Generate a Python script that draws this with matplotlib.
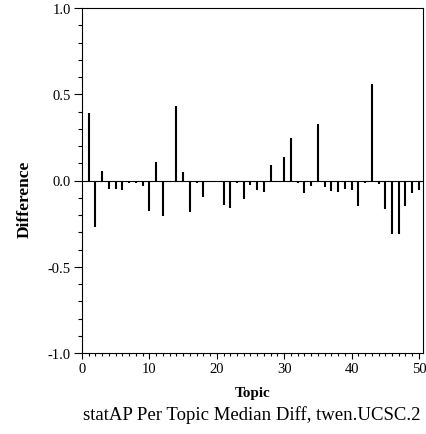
import numpy as np
import matplotlib.pyplot as plt
from matplotlib.ticker import MultipleLocator

plt.rcParams['font.family'] = ['Liberation Serif', 'DejaVu Serif']

# per-topic median differences, topics 1..50
topics = list(range(1, 51))
diffs = [0.39, -0.27, 0.056, -0.048, -0.047, -0.056, -0.014, -0.014, -0.031, -0.176,
         0.11, -0.205, -0.006, 0.43, 0.05, -0.18, -0.017, -0.095, -0.004, 0.0,
         -0.143, -0.16, -0.014, -0.11, -0.027, -0.054, -0.066, 0.087, -0.01, 0.138,
         0.246, -0.014, -0.072, -0.031, 0.33, -0.037, -0.058, -0.064, -0.048, -0.054,
         -0.147, -0.012, 0.558, -0.02, -0.167, -0.31, -0.31, -0.149, -0.07, -0.054]

title = "statAP Per Topic Median Diff, twen.UCSC.2"

fig = plt.figure(figsize=(4.26, 4.35), dpi=100)
ax = fig.add_axes([82 / 426, 1 - 354 / 435, (423 - 82) / 426, (354 - 9) / 435])

ax.axhline(0, color='black', lw=0.8)
ax.vlines(topics, 0, diffs, color='black', lw=1.5)

ax.set_xlim(0, 50.6)
ax.set_ylim(-1.0, 1.0)
ax.xaxis.set_major_locator(MultipleLocator(10))
ax.xaxis.set_minor_locator(MultipleLocator(1))
ax.yaxis.set_major_locator(MultipleLocator(0.5))
ax.yaxis.set_minor_locator(MultipleLocator(0.1))
ax.yaxis.set_major_formatter(lambda v, p: f"{v:.1f}")

ax.tick_params(axis='y', which='major', length=6, width=0.8, labelsize=10.5, pad=2)
ax.tick_params(axis='y', which='minor', length=3, width=0.8)
ax.tick_params(axis='x', which='major', length=4.5, width=0.8, labelsize=10.5, pad=2)
ax.tick_params(axis='x', which='minor', length=2.2, width=0.8)
for s in ax.spines.values():
    s.set_linewidth(0.8)

ax.set_xlabel('Topic', fontsize=11, fontweight='bold', labelpad=8)
fig.text(25 / 426, 1 - 199 / 435, 'Difference', rotation=90, fontsize=12.5,
         fontweight='bold', ha='center', va='center')
fig.text(252 / 426, 1 - 415 / 435, title, fontsize=13.5, ha='center', va='center')

fig.savefig('out.png', dpi=100)
